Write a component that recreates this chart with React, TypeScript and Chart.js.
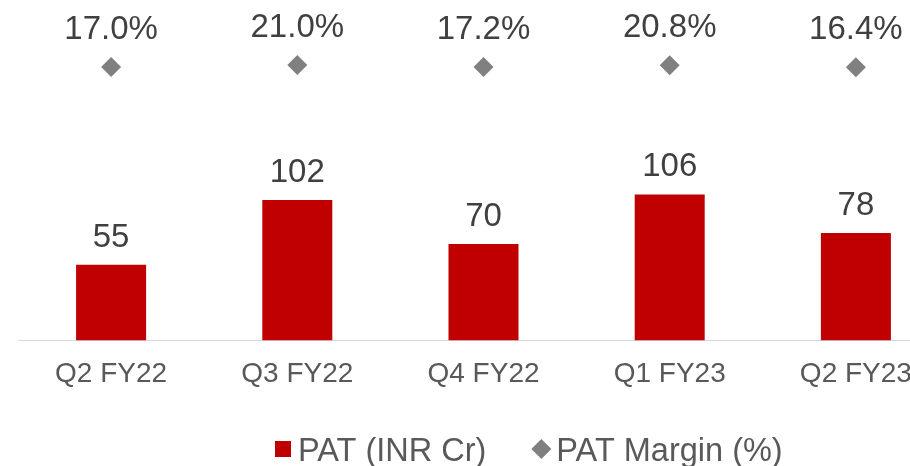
import React, { useEffect, useRef } from "react";
import { Chart, registerables } from "chart.js";

Chart.register(...registerables);

const categories = ["Q2 FY22", "Q3 FY22", "Q4 FY22", "Q1 FY23", "Q2 FY23"];
const patValues = [55, 102, 70, 106, 78];
const marginValues = [17.0, 21.0, 17.2, 20.8, 16.4];
const seriesNames = ["PAT (INR Cr)", "PAT Margin (%)"];

const FONT = "'Liberation Sans', Arial, Helvetica, sans-serif";
const BAR_COLOR = "#C00000";
const DIAMOND_COLOR = "#808080";

const labelPlugin = {
  id: "valueLabels",
  afterDatasetsDraw(chart: any) {
    const ctx = chart.ctx as CanvasRenderingContext2D;
    ctx.save();
    ctx.font = `33px ${FONT}`;
    ctx.fillStyle = "#404040";
    ctx.textAlign = "center";
    ctx.textBaseline = "alphabetic";
    chart.getDatasetMeta(0).data.forEach((el: any, i: number) => {
      ctx.fillText(String(patValues[i]), el.x, el.y - 18);
    });
    chart.getDatasetMeta(1).data.forEach((el: any, i: number) => {
      ctx.fillText(marginValues[i].toFixed(1) + "%", el.x, el.y - 28);
    });

    // legend
    ctx.font = `32.5px ${FONT}`;
    ctx.textAlign = "left";
    const w1 = ctx.measureText(seriesNames[0]).width;
    const box = 16;
    const cy = 449;
    let x = 275;
    ctx.fillStyle = BAR_COLOR;
    ctx.fillRect(x, cy - box / 2, box, box);
    x += box + 7;
    ctx.fillStyle = "#595959";
    ctx.fillText(seriesNames[0], x, cy + 11.5);
    x += w1 + 45;
    const r = 10;
    const dx = x + r;
    ctx.fillStyle = DIAMOND_COLOR;
    ctx.beginPath();
    ctx.moveTo(dx - r, cy);
    ctx.lineTo(dx, cy - r);
    ctx.lineTo(dx + r, cy);
    ctx.lineTo(dx, cy + r);
    ctx.closePath();
    ctx.fill();
    x += 2 * r + 5;
    ctx.fillStyle = "#595959";
    ctx.fillText(seriesNames[1], x, cy + 11.5);
    ctx.restore();
  },
};

export default function App() {
  const canvasRef = useRef<HTMLCanvasElement | null>(null);

  useEffect(() => {
    const canvas = canvasRef.current;
    if (!canvas) return;
    const chart = new Chart(canvas, {
      type: "bar",
      data: {
        labels: categories,
        datasets: [
          {
            type: "bar",
            label: seriesNames[0],
            data: patValues,
            backgroundColor: BAR_COLOR,
            borderWidth: 0,
            categoryPercentage: 1,
            barPercentage: 0.376,
            yAxisID: "y",
            order: 2,
          } as any,
          {
            type: "line",
            label: seriesNames[1],
            data: marginValues,
            showLine: false,
            pointStyle: "rectRot",
            pointRadius: 10,
            pointHoverRadius: 10,
            pointBackgroundColor: DIAMOND_COLOR,
            pointBorderWidth: 0,
            borderColor: DIAMOND_COLOR,
            yAxisID: "y1",
            order: 1,
          } as any,
        ],
      },
      options: {
        responsive: false,
        animation: false,
        devicePixelRatio: 1,
        layout: { padding: { left: 18, right: 1, top: 0, bottom: 58 } },
        plugins: {
          legend: { display: false },
          tooltip: { enabled: false },
        },
        scales: {
          x: {
            grid: { display: false, drawTicks: false },
            border: { display: true, color: "#d9d9d9", width: 1 },
            ticks: {
              font: { size: 28, family: FONT },
              color: "#595959",
              padding: 17,
              maxRotation: 0,
              autoSkip: false,
            },
          },
          y: { display: false, min: 0, max: 240 },
          y1: { display: false, min: -529, max: 131, position: "right" },
        },
      },
      plugins: [labelPlugin],
    });
    return () => chart.destroy();
  }, []);

  return (
    <div
      style={{
        position: "absolute",
        left: 0,
        top: 0,
        width: 910,
        height: 466,
        overflow: "hidden",
        background: "#ffffff",
      }}
    >
      <canvas
        ref={canvasRef}
        width={959}
        height={466}
        style={{ width: 959, height: 466, display: "block" }}
      />
    </div>
  );
}
